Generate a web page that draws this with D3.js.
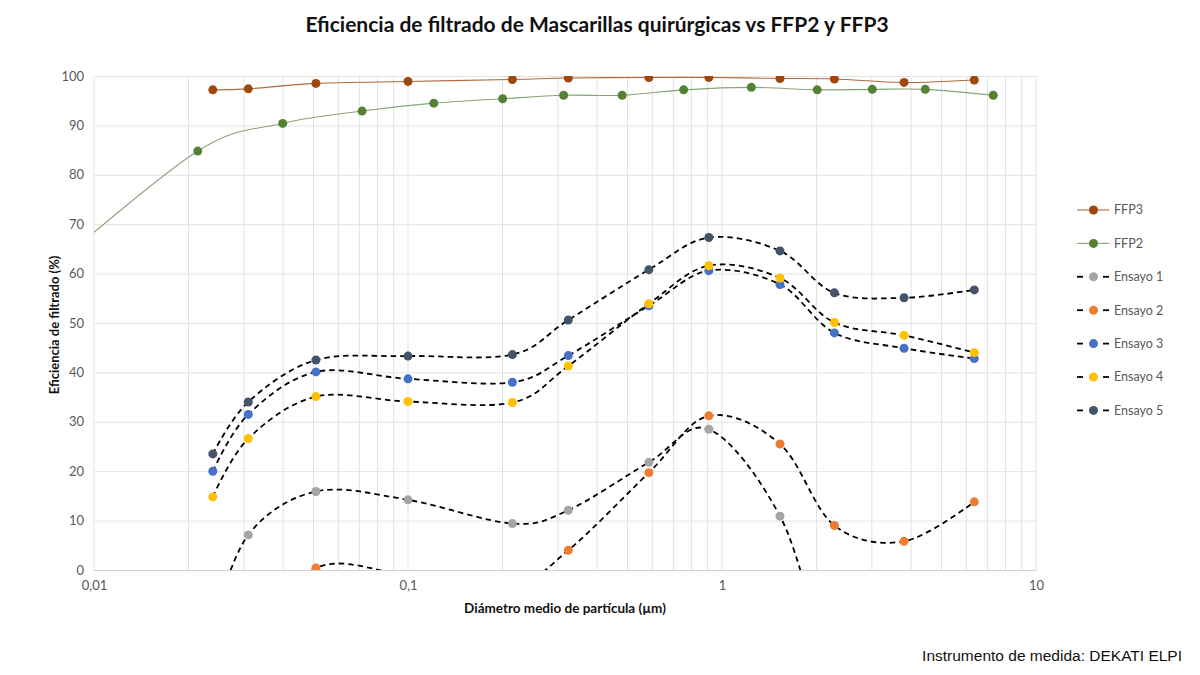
<!DOCTYPE html>
<html>
<head>
<meta charset="utf-8">
<script src="https://cdn.jsdelivr.net/npm/d3@7"></script>
<style>
  body { margin: 0; background: #fff; }
  svg { display: block; }
  text { font-family: Lato, "Open Sans", sans-serif; }
</style>
</head>
<body>
<svg id="chart" width="1200" height="675"></svg>
<script>
// diámetros de las etapas ELPI (µm)
const stages = [0.0239, 0.031, 0.0509, 0.1, 0.215, 0.324, 0.585, 0.908, 1.53, 2.28, 3.8, 6.36];
const ffp2X = [0.007, 0.0214, 0.0399, 0.0714, 0.1208, 0.2002, 0.313, 0.481, 0.755, 1.24, 2.01, 3.01, 4.44, 7.31];

const ffp3 = [97.2, 97.4, 98.5, 98.9, 99.3, 99.6, 99.7, 99.7, 99.5, 99.4, 98.7, 99.2];
const ffp2 = [60, 84.8, 90.4, 92.9, 94.5, 95.4, 96.1, 96.1, 97.2, 97.7, 97.2, 97.3, 97.3, 96.1];
const ensayo1 = [-11, 7.1, 15.9, 14.2, 9.4, 12.1, 21.8, 28.5, 10.9, -19, -26, -22];
const ensayo2 = [-20, -16, 0.4, -1, -3, 4.0, 19.7, 31.2, 25.5, 9.0, 5.8, 13.8];
const ensayo3 = [20.0, 31.5, 40.1, 38.7, 38.0, 43.4, 53.5, 60.6, 57.8, 48.0, 44.9, 42.8];
const ensayo4 = [14.8, 26.6, 35.1, 34.1, 33.9, 41.3, 53.9, 61.6, 59.1, 50.1, 47.5, 44.0];
const ensayo5 = [23.5, 34.0, 42.5, 43.3, 43.6, 50.6, 60.8, 67.3, 64.6, 56.1, 55.1, 56.7];

const yTicks = d3.range(0, 101, 10);
const xTicks = [0.01, 0.1, 1, 10];

const series = [
  { name: "FFP3", xs: stages, ys: ffp3, line: "#B06A3E", dot: "#9E480E", dashed: false },
  { name: "FFP2", xs: ffp2X, ys: ffp2, line: "#8AA37A", dot: "#548235", dashed: false },
  { name: "Ensayo 1", xs: stages, ys: ensayo1, line: "#000", dot: "#A5A5A5", dashed: true },
  { name: "Ensayo 2", xs: stages, ys: ensayo2, line: "#000", dot: "#ED7D31", dashed: true },
  { name: "Ensayo 3", xs: stages, ys: ensayo3, line: "#000", dot: "#4472C4", dashed: true },
  { name: "Ensayo 4", xs: stages, ys: ensayo4, line: "#000", dot: "#FFC000", dashed: true },
  { name: "Ensayo 5", xs: stages, ys: ensayo5, line: "#000", dot: "#44546A", dashed: true },
];

const margin = { top: 76, right: 164, bottom: 105, left: 94 };
const svg = d3.select("#chart");
const width = 1200 - margin.left - margin.right;
const height = 675 - margin.top - margin.bottom;

const locale = d3.formatLocale({ decimal: ",", thousands: ".", grouping: [3], currency: ["", "€"] });
const fmt = (d) => locale.format("~g")(d);

const x = d3.scaleLog().domain([0.01, 10]).range([0, width]);
const y = d3.scaleLinear().domain([0, 100]).range([height, 0]);

const chart = svg.append("g").attr("transform", `translate(${margin.left},${margin.top})`);

svg.append("defs").append("clipPath").attr("id", "plot-clip")
  .append("rect").attr("width", width).attr("height", height);

// rejilla vertical (mayor y menor)
const xGrid = [];
for (let e = -2; e < 1; e++) for (let m = 1; m < 10; m++) xGrid.push(m * Math.pow(10, e));
xGrid.push(10);
chart.append("g").selectAll("line").data(xGrid).join("line")
  .attr("x1", (d) => x(d)).attr("x2", (d) => x(d))
  .attr("y1", 0).attr("y2", height)
  .attr("stroke", "#E3E3E3").attr("stroke-width", 1);

// eje y con rejilla horizontal
const yAxisG = chart.append("g").attr("class", "y-axis")
  .call(d3.axisLeft(y).tickValues(yTicks).tickSize(-width).tickPadding(10));
yAxisG.select(".domain").remove();
yAxisG.selectAll(".tick line").attr("stroke", (d) => (d === 0 ? "#D0D0D0" : "#E3E3E3"));
yAxisG.selectAll(".tick text").attr("fill", "#595959").style("font-size", "13px");

const xAxisG = chart.append("g").attr("class", "x-axis")
  .attr("transform", `translate(0,${height})`)
  .call(d3.axisBottom(x).tickValues(xTicks).tickFormat(fmt).tickSize(0).tickPadding(11));
xAxisG.select(".domain").remove();
xAxisG.selectAll(".tick text").attr("fill", "#595959").style("font-size", "13px");

// series
const line = d3.line()
  .x((d) => x(d[0]))
  .y((d) => y(d[1]))
  .curve(d3.curveCatmullRom.alpha(0));

const plot = chart.append("g").attr("clip-path", "url(#plot-clip)");

series.forEach((s) => {
  const pts = s.xs.map((v, i) => [v, s.ys[i]]);
  plot.append("path")
    .datum(pts)
    .attr("d", line)
    .attr("fill", "none")
    .attr("stroke", s.line)
    .attr("stroke-width", s.dashed ? 1.8 : 1.1)
    .attr("stroke-dasharray", s.dashed ? "5.5,4" : null);
});

series.forEach((s) => {
  const pts = s.xs.map((v, i) => [v, s.ys[i]]).filter((d) => d[0] >= 0.01);
  plot.append("g").selectAll("circle").data(pts).join("circle")
    .attr("cx", (d) => x(d[0]))
    .attr("cy", (d) => y(d[1]))
    .attr("r", 4.5)
    .attr("fill", s.dot);
});

// leyenda
const legend = svg.append("g").attr("transform", "translate(1077,210)");
const rows = legend.selectAll("g").data(series).join("g")
  .attr("transform", (d, i) => `translate(0,${i * 33.4})`);
rows.each(function (s) {
  const g = d3.select(this);
  if (s.dashed) {
    g.append("line").attr("x1", 0).attr("x2", 6).attr("stroke", "#000").attr("stroke-width", 1.8);
    g.append("line").attr("x1", 26).attr("x2", 32).attr("stroke", "#000").attr("stroke-width", 1.8);
  } else {
    g.append("line").attr("x1", 0).attr("x2", 32).attr("stroke", s.line).attr("stroke-width", 1.1);
  }
  g.append("circle").attr("cx", 16.5).attr("r", 4.5).attr("fill", s.dot);
  g.append("text").attr("x", 37).attr("dy", "0.35em")
    .attr("fill", "#595959").style("font-size", "12.5px").text(s.name);
});

// títulos
svg.append("text")
  .attr("x", 597).attr("y", 32)
  .attr("text-anchor", "middle")
  .style("font-size", "21px").style("font-weight", "bold").attr("fill", "#111")
  .text("Eficiencia de filtrado de Mascarillas quirúrgicas vs FFP2 y FFP3");

svg.append("text")
  .attr("transform", "translate(54,325) rotate(-90)")
  .attr("text-anchor", "middle").attr("dy", "0.35em")
  .style("font-size", "13px").style("font-weight", "bold").attr("fill", "#111")
  .text("Eficiencia de filtrado (%)");

svg.append("text")
  .attr("x", 565).attr("y", 608).attr("dy", "0.35em")
  .attr("text-anchor", "middle")
  .style("font-size", "13.5px").style("font-weight", "bold").attr("fill", "#111")
  .text("Diámetro medio de partícula (µm)");

svg.append("text")
  .attr("x", 1182).attr("y", 661)
  .attr("text-anchor", "end")
  .style("font-family", "'Liberation Sans', Arial, sans-serif")
  .style("font-size", "15.5px").attr("fill", "#111")
  .text("Instrumento de medida: DEKATI ELPI");
</script>
</body>
</html>
